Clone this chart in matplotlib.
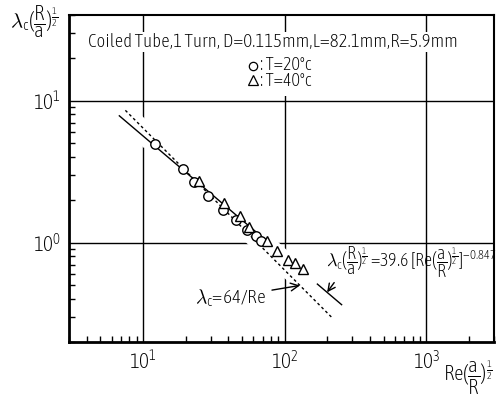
import matplotlib
matplotlib.use('Agg')
import matplotlib.pyplot as plt
from matplotlib.lines import Line2D
import numpy as np

# ---------------- data ----------------
re_20 = [12.1, 19.0, 23.0, 28.6, 36.5, 45.4, 54.1, 62.2, 67.6]
lam_20 = [4.96, 3.30, 2.69, 2.14, 1.71, 1.445, 1.23, 1.11, 1.03]
re_40 = [24.7, 37.1, 48.5, 55.8, 75.3, 88.1, 105, 118, 135]
lam_40 = [2.73, 1.90, 1.53, 1.28, 1.03, 0.88, 0.75, 0.715, 0.653]
laminar_coef = 64.0
corr_coef = 39.6
corr_exp = -0.847
laminar_range = [7.5, 215]
corr_ranges = [[6.8, 75], [170, 252]]
gap_ranges = [[8.0, 11.5], [52, 135]]
x_ticks = [10, 100, 1000]
x_tick_labels = [r'$10^1$', r'$10^2$', r'$10^3$']
y_ticks = [1, 10]
y_tick_labels = [r'$10^0$', r'$10^1$']
title_text = 'Coiled Tube,1 Turn, D=0.115mm,L=82.1mm,R=5.9mm'
legend_texts = [': T=20°c', ': T=40°c']
legend_markers = ['o', '^']
laminar_label = r'$\lambda_{\rm c}$=64/Re'
corr_label = (r'$\lambda_{\rm c}(\dfrac{R}{a})^{\frac{1}{2}}\,$=39.6 '
              r'[Re$(\dfrac{a}{R})^{\frac{1}{2}}$]$^{-0.847}$')
y_label = r'$\lambda_{\rm c}(\dfrac{R}{a})^{\frac{1}{2}}$'
x_label = r'Re$(\dfrac{a}{R})^{\frac{1}{2}}$'

FONT = 'Asap Condensed'
plt.rcParams['font.family'] = [FONT, 'DejaVu Sans']
plt.rcParams['font.weight'] = 'light'
plt.rcParams['mathtext.fontset'] = 'custom'
plt.rcParams['mathtext.rm'] = FONT + ':light'
plt.rcParams['mathtext.it'] = FONT + ':light'
plt.rcParams['mathtext.bf'] = FONT

W, H = 496, 396
fig = plt.figure(figsize=(W/100, H/100), dpi=100)
ax = fig.add_axes([69/W, 1-342/H, (494-69)/W, (342-15)/H])
ax.set_xscale('log'); ax.set_yscale('log')
ax.set_xlim(3, 3000); ax.set_ylim(0.2, 40)

def corr(x):
    return corr_coef * np.power(x, corr_exp)

# white band that interrupts the grid around the curves
for g in gap_ranges:
    xg = np.geomspace(*g, 50)
    ax.plot(xg, np.sqrt(corr(xg) * laminar_coef / xg), color='white', lw=16,
            solid_capstyle='butt', zorder=2)

xl = np.geomspace(*laminar_range, 50)
ax.plot(xl, laminar_coef / xl, color='k', lw=1, ls=(0, (2, 2)), zorder=3)
for r in corr_ranges:
    xc = np.geomspace(*r, 50)
    ax.plot(xc, corr(xc), color='k', lw=1, zorder=3)
ax.plot(re_20, lam_20, ls='none', marker='o', ms=6.8, mfc='white', mec='k', mew=1, zorder=4)
ax.plot(re_40, lam_40, ls='none', marker='^', ms=7.8, mfc='white', mec='k', mew=1, zorder=4)

for v in x_ticks:
    ax.axvline(v, color='k', lw=1, zorder=1)
for v in y_ticks:
    ax.axhline(v, color='k', lw=1, zorder=1)

ax.set_xticks(x_ticks, x_tick_labels)
ax.set_yticks(y_ticks, y_tick_labels)
ax.tick_params(which='both', direction='in', top=False, right=False)
ax.tick_params(which='major', length=0, labelsize=15, pad=6)
ax.tick_params(which='minor', length=4, width=1)
ax.xaxis.set_minor_formatter(matplotlib.ticker.NullFormatter())
ax.yaxis.set_minor_formatter(matplotlib.ticker.NullFormatter())
for k, s in ax.spines.items():
    s.set_linewidth(2 if k in ('left', 'bottom') else 1.5)

def fx(px):
    return px / W
def fy(py):
    return 1 - py / H

fig.text(fx(88), fy(42), title_text, fontsize=13.6, va='center', ha='left',
         bbox=dict(fc='white', ec='none', pad=1))
fig.patches.append(matplotlib.patches.Rectangle((fx(246), fy(96)), fx(66), 44 / H,
                   transform=fig.transFigure, fc='white', ec='none', zorder=5))
for i, m in enumerate(legend_markers):
    py = 66 + 14 * i
    fig.lines.append(Line2D([fx(253)], [fy(py)], transform=fig.transFigure, marker=m,
                            ms=6 if m == 'o' else 7, mfc='white', mec='k', mew=0.9, ls='none',
                            zorder=6))
fig.text(fx(260), fy(73), '\n'.join(legend_texts), fontsize=13, va='center', ha='left',
         linespacing=0.92, zorder=6)
fig.text(fx(10), fy(22), y_label, fontsize=15, va='center', ha='left')
fig.text(fx(443), fy(378), x_label, fontsize=15, va='center', ha='left')

ax.annotate(laminar_label, xy=(128, laminar_coef/128), xycoords='data',
            xytext=(fx(195), fy(297)), textcoords='figure fraction',
            fontsize=14, va='center', ha='left',
            arrowprops=dict(arrowstyle='->', color='k', lw=1, shrinkA=2, shrinkB=0))
ax.annotate(corr_label, xy=(199, corr(199)), xycoords='data',
            xytext=(fx(326), fy(262)), textcoords='figure fraction',
            fontsize=13, va='center', ha='left', annotation_clip=False,
            arrowprops=dict(arrowstyle='->', color='k', lw=1, shrinkA=0, shrinkB=0,
                            relpos=(0.06, 0.0)))

fig.savefig('out.png', dpi=100)
